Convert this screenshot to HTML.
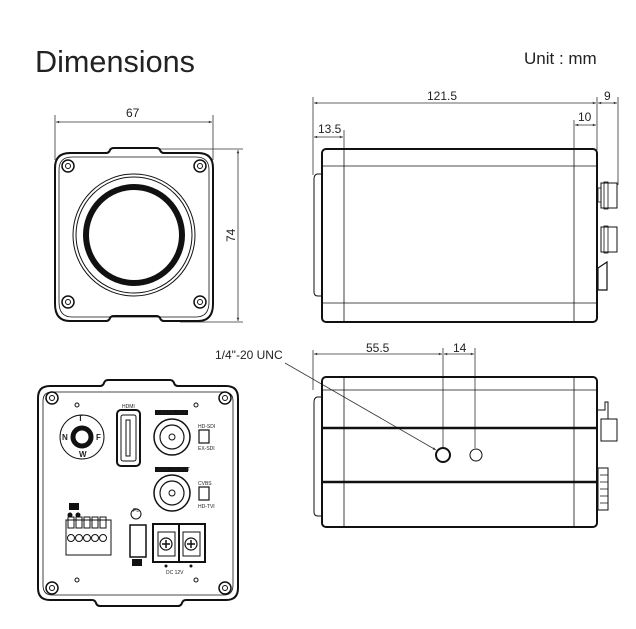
<!DOCTYPE html>
<html><head><meta charset="utf-8"><style>
html,body{margin:0;padding:0;background:#fff;}
svg{display:block;}
text{font-family:"Liberation Sans",sans-serif;fill:#222;}
</style></head><body>
<svg width="636" height="629" viewBox="0 0 636 629" xmlns="http://www.w3.org/2000/svg">
<defs>
<marker id="a" viewBox="0 0 10 10" refX="10" refY="5" markerWidth="6" markerHeight="4" orient="auto-start-reverse"><path d="M0,1 L10,5 L0,9 z" fill="#333"/></marker>
</defs>
<text x="35" y="72" font-size="31" textLength="160" lengthAdjust="spacingAndGlyphs">Dimensions</text>
<text x="524" y="64" font-size="17" fill="#444">Unit : mm</text>

<g stroke="#333" stroke-width="0.8" fill="none">
<line x1="55" y1="115" x2="55" y2="160"/><line x1="213" y1="115" x2="213" y2="160"/>
<line x1="56" y1="122" x2="212" y2="122" marker-start="url(#a)" marker-end="url(#a)"/>
<line x1="160" y1="149" x2="243" y2="149"/><line x1="180" y1="322" x2="243" y2="322"/>
<line x1="238" y1="150" x2="238" y2="321" marker-start="url(#a)" marker-end="url(#a)"/>
</g>
<text x="126" y="117" font-size="12">67</text>
<text x="0" y="0" font-size="12" transform="translate(235,242) rotate(-90)">74</text>

<g fill="none" stroke="#111">
<path d="M70,153 L106,153 Q109,153 110,150 Q111,148 114,148 L156,148 Q159,148 160,150 Q161,153 164,153 L198,153 Q213,153 213,168 L213,304 Q213,321 198,321 L164,321 Q161,321 160,318 Q159,316 156,316 L114,316 Q111,316 110,318 Q109,321 106,321 L70,321 Q55,321 55,304 L55,168 Q55,153 70,153 Z" stroke-width="2"/>
<path d="M72,157 L196,157 Q209,157 209,170 L209,302 Q209,317 196,317 L72,317 Q59,317 59,302 L59,170 Q59,157 72,157 Z" stroke-width="0.8"/>
<circle cx="134" cy="235" r="61" stroke-width="1"/>
<circle cx="134" cy="235" r="58" stroke-width="1"/>
<circle cx="134" cy="235" r="48" stroke-width="6"/>
<g stroke-width="1.5"><circle cx="68" cy="166" r="6"/><circle cx="200" cy="166" r="6"/><circle cx="68" cy="302" r="6"/><circle cx="200" cy="302" r="6"/></g>
<g stroke-width="1"><circle cx="68" cy="166" r="2.5"/><circle cx="200" cy="166" r="2.5"/><circle cx="68" cy="302" r="2.5"/><circle cx="200" cy="302" r="2.5"/></g>
</g>

<g stroke="#333" stroke-width="0.8" fill="none">
<line x1="313" y1="97" x2="313" y2="175"/>
<line x1="314" y1="103" x2="596" y2="103" marker-start="url(#a)" marker-end="url(#a)"/>
<line x1="597" y1="97" x2="597" y2="150"/>
<line x1="598" y1="103" x2="617" y2="103" marker-start="url(#a)" marker-end="url(#a)"/>
<line x1="618" y1="97" x2="618" y2="185"/>
<line x1="314" y1="137" x2="343" y2="137" marker-start="url(#a)" marker-end="url(#a)"/>
<line x1="344" y1="130" x2="344" y2="150"/>
<line x1="574" y1="120" x2="574" y2="150"/>
<line x1="575" y1="125" x2="596" y2="125" marker-start="url(#a)" marker-end="url(#a)"/>
</g>
<text x="427" y="100" font-size="12">121.5</text>
<text x="604" y="100" font-size="12">9</text>
<text x="318" y="133" font-size="12">13.5</text>
<text x="578" y="121" font-size="12">10</text>

<g fill="none" stroke="#111">
<rect x="322" y="149" width="275" height="173" rx="4" stroke-width="2"/>
<line x1="322" y1="166" x2="597" y2="166" stroke-width="0.8"/>
<line x1="322" y1="303" x2="597" y2="303" stroke-width="0.8"/>
<line x1="344" y1="149" x2="344" y2="322" stroke-width="0.8"/>
<line x1="574" y1="149" x2="574" y2="322" stroke-width="0.8"/>
<path d="M322,174 L317,174 Q314,175 314,179 L314,292 Q314,296 318,296 L322,296" stroke-width="1"/>
<rect x="601" y="183" width="16" height="25" stroke-width="1"/><rect x="604" y="182" width="4" height="27" stroke-width="0.8"/>
<rect x="601" y="227" width="16" height="25" stroke-width="1"/><rect x="604" y="226" width="4" height="27" stroke-width="0.8"/>
<rect x="598" y="188" width="3" height="14" stroke-width="0.8"/>
<path d="M598,268 L607,262 L607,290 L598,290 Z" stroke-width="1.2"/>
</g>

<g stroke="#333" stroke-width="0.8" fill="none">
<line x1="313" y1="350" x2="313" y2="390"/>
<line x1="314" y1="354" x2="442" y2="354" marker-start="url(#a)" marker-end="url(#a)"/>
<line x1="443" y1="348" x2="443" y2="448"/>
<line x1="444" y1="354" x2="474" y2="354" marker-start="url(#a)" marker-end="url(#a)"/>
<line x1="475" y1="348" x2="475" y2="448"/>
<line x1="285" y1="363" x2="436" y2="450" marker-end="url(#a)"/>
</g>
<text x="366" y="352" font-size="12">55.5</text>
<text x="453" y="352" font-size="12">14</text>
<text x="215" y="359" font-size="12">1/4"-20 UNC</text>

<g fill="none" stroke="#111">
<rect x="322" y="377" width="275" height="150" rx="4" stroke-width="2"/>
<line x1="322" y1="390" x2="597" y2="390" stroke-width="0.8"/>
<line x1="322" y1="428" x2="597" y2="428" stroke-width="2.5"/>
<line x1="322" y1="482" x2="597" y2="482" stroke-width="2.5"/>
<line x1="344" y1="377" x2="344" y2="527" stroke-width="0.8"/>
<line x1="574" y1="377" x2="574" y2="527" stroke-width="0.8"/>
<path d="M322,397 L317,397 Q314,398 314,402 L314,512 Q314,516 318,516 L322,516" stroke-width="1"/>
<circle cx="443" cy="455" r="7" stroke-width="2"/>
<circle cx="476" cy="455" r="6" stroke-width="1"/>
<rect x="601" y="419" width="16" height="22" stroke-width="1"/>
<path d="M598,410 L605,410 L605,402 L608,402 L608,419" stroke-width="1"/>
<rect x="598" y="468" width="10" height="42" stroke-width="1"/>
<path d="M600,475 H608 M600,482 H608 M600,489 H608 M600,496 H608 M600,503 H608" stroke-width="0.8"/>
</g>

<g fill="none" stroke="#111">
<path d="M50,386 L100,386 Q103,386 104,383 Q105,380 108,380 L170,380 Q173,380 174,383 Q175,386 178,386 L226,386 Q238,386 238,398 L238,588 Q238,600 226,600 L186,600 Q183,600 182,603 Q181,606 178,606 L100,606 Q97,606 96,603 Q95,600 92,600 L50,600 Q38,600 38,588 L38,398 Q38,386 50,386 Z" stroke-width="2"/>
<path d="M52,392 L224,392 Q233,392 233,401 L233,585 Q233,595 224,595 L52,595 Q43,595 43,585 L43,401 Q43,392 52,392 Z" stroke-width="0.8"/>
<g stroke-width="1.5"><circle cx="52" cy="398" r="6"/><circle cx="225" cy="398" r="6"/><circle cx="52" cy="588" r="6"/><circle cx="225" cy="588" r="6"/></g>
<g stroke-width="1"><circle cx="52" cy="398" r="2.5"/><circle cx="225" cy="398" r="2.5"/><circle cx="52" cy="588" r="2.5"/><circle cx="225" cy="588" r="2.5"/></g>
<circle cx="77" cy="405" r="2"/><circle cx="196" cy="405" r="2"/><circle cx="77" cy="580" r="2"/><circle cx="196" cy="580" r="2"/>
<circle cx="82" cy="437" r="22" stroke-width="1"/>
<circle cx="82" cy="437" r="9" stroke-width="5"/>
<rect x="117" y="410" width="23" height="56" rx="4" stroke-width="2"/>
<rect x="121" y="415" width="15" height="46" rx="2" stroke-width="1"/>
<rect x="126" y="420" width="4" height="36" stroke-width="1"/>
<circle cx="172" cy="437" r="18" stroke-width="1.5"/><circle cx="172" cy="437" r="12" stroke-width="1.2"/><circle cx="172" cy="437" r="3" stroke-width="1"/>
<circle cx="172" cy="493" r="18" stroke-width="1.5"/><circle cx="172" cy="493" r="12" stroke-width="1.2"/><circle cx="172" cy="493" r="3" stroke-width="1"/>
<rect x="199" y="430" width="10" height="13" stroke-width="1.2"/>
<rect x="199" y="487" width="10" height="13" stroke-width="1.2"/>
<path d="M66,520 L111,520 L111,555 L66,555 Z" stroke-width="1"/>
<g stroke-width="1"><rect x="68" y="517" width="6" height="11"/><rect x="76" y="517" width="6" height="11"/><rect x="84" y="517" width="6" height="11"/><rect x="92" y="517" width="6" height="11"/><rect x="100" y="517" width="6" height="11"/>
<circle cx="71" cy="538" r="3.5"/><circle cx="79" cy="538" r="3.5"/><circle cx="87" cy="538" r="3.5"/><circle cx="95" cy="538" r="3.5"/><circle cx="103" cy="538" r="3.5"/></g>
<circle cx="136" cy="514" r="5" stroke-width="1"/>
<rect x="130" y="525" width="16" height="32" stroke-width="1.5"/>
<rect x="153" y="524" width="52" height="38" stroke-width="2"/>
<line x1="179" y1="524" x2="179" y2="562" stroke-width="2"/>
<rect x="158" y="532" width="17" height="24" stroke-width="1"/><rect x="183" y="532" width="17" height="24" stroke-width="1"/>
<circle cx="166" cy="544" r="6" stroke-width="1.2"/><circle cx="191" cy="544" r="6" stroke-width="1.2"/>
<path d="M162,544 H170 M166,540 V548 M187,544 H195 M191,540 V548" stroke-width="1.5"/>
</g>
<g fill="#111">
<circle cx="166" cy="566" r="1.5"/><circle cx="191" cy="566" r="1.5"/>
<circle cx="70" cy="515" r="2.5"/><circle cx="78" cy="515" r="2.5"/>
<rect x="69" y="503" width="10" height="7"/>
<rect x="155" y="410" width="33" height="5"/>
<rect x="155" y="467" width="33" height="5"/>
<rect x="132" y="559" width="10" height="7"/>
</g>
<g font-size="5" fill="#222">
<text x="122" y="408">HDMI</text>
<text x="157" y="414" fill="#fff">DIGITAL-OUT</text>
<text x="157" y="471" fill="#fff">ANALOG-OUT</text>
<text x="198" y="428">HD-SDI</text><text x="198" y="450">EX-SDI</text>
<text x="198" y="485">CVBS</text><text x="198" y="508">HD-TVI</text>
<text x="166" y="574">DC 12V</text>
<text x="133" y="512">PL</text>
</g>
<g font-size="8" font-weight="bold" fill="#111">
<text x="78" y="421">T</text><text x="62" y="440">N</text><text x="96" y="440">F</text><text x="79" y="457">W</text>
</g>
</svg>
</body></html>
